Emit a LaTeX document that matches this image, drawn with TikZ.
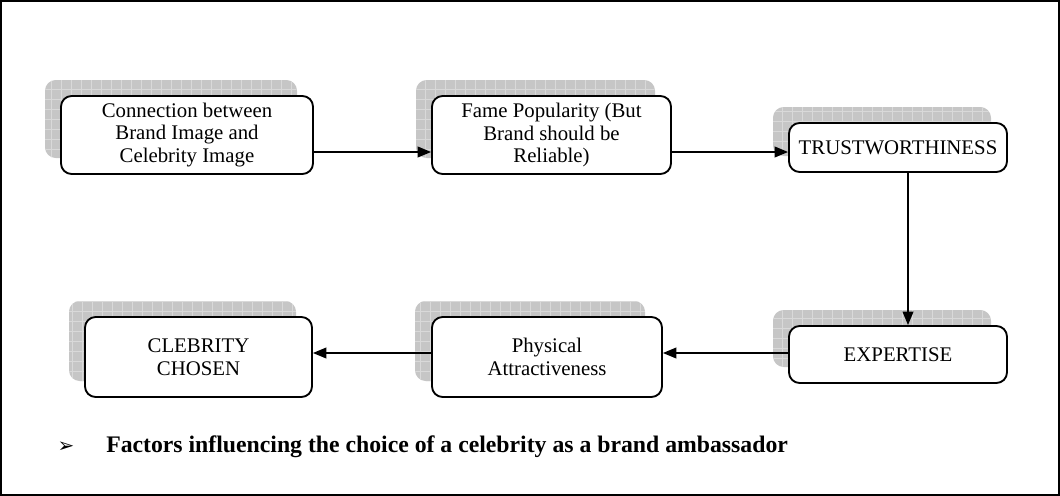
\documentclass[tikz,border=0pt]{standalone}
\usepackage{fontspec}
\setmainfont{Liberation Serif}
\newfontfamily\dejavu{DejaVu Sans}
\usetikzlibrary{arrows.meta}
\tikzset{
  x=0.75pt, y=-0.75pt,
  mainbox/.style={draw=black, line width=1.4pt, rounded corners=8pt, fill=white,
    align=center, inner sep=1pt, font=\fontsize{15.6}{17.2}\selectfont},
  shadowbox/.style={rounded corners=8pt, fill=gray!45, draw=none,
    path picture={\draw[gray!30, line width=0.5pt, step=7.5pt]
      (path picture bounding box.south west) grid (path picture bounding box.north east);}},
  arr/.style={line width=1.2pt, -{Triangle[length=10pt,width=8pt]}},
  frame/.style={draw=black, line width=0.8pt}
}
\begin{document}
\begin{tikzpicture}
\useasboundingbox (0,0) rectangle (1060,496);
\draw[frame] (1,1) rectangle (1059,495);
% shadows
\node[shadowbox, minimum width=189pt, minimum height=58.5pt] (s1) at (171,119) {};
\node[shadowbox, minimum width=179.25pt, minimum height=58.5pt] (s2) at (535.5,119) {};
\node[shadowbox, minimum width=163.5pt, minimum height=36.75pt] (s3) at (882,131.5) {};
\node[shadowbox, minimum width=163.5pt, minimum height=42.75pt] (s4) at (882,338.5) {};
\node[shadowbox, minimum width=172.5pt, minimum height=60pt] (s5) at (530,341) {};
\node[shadowbox, minimum width=170.25pt, minimum height=60pt] (s6) at (182.5,341) {};
% boxes
\node[mainbox, minimum width=189pt, minimum height=58.5pt] (b1) at (187,135) {Connection between\\Brand Image and\\Celebrity Image};
\node[mainbox, minimum width=179.25pt, minimum height=58.5pt] (b2) at (551.5,135) {Fame Popularity (But\\Brand should be\\Reliable)};
\node[mainbox, minimum width=163.5pt, minimum height=36.75pt] (b3) at (898,147.5) {TRUSTWORTHINESS};
\node[mainbox, minimum width=163.5pt, minimum height=42.75pt] (b4) at (898,354.5) {EXPERTISE};
\node[mainbox, minimum width=172.5pt, minimum height=60pt] (b5) at (547,357) {Physical\\Attractiveness};
\node[mainbox, minimum width=170.25pt, minimum height=60pt] (b6) at (198.5,357) {CLEBRITY\\CHOSEN};
% connector guides
\coordinate (row1) at (0,152);
\coordinate (row2) at (0,353);
\coordinate (col1) at (908,0);
\draw[arr] (b1.east |- row1) -- (b2.west |- row1);
\draw[arr] (b2.east |- row1) -- (b3.west |- row1);
\draw[arr] (b3.south -| col1) -- (b4.north -| col1);
\draw[arr] (b4.west |- row2) -- (b5.east |- row2);
\draw[arr] (b5.west |- row2) -- (b6.east |- row2);
% caption
\node[inner sep=0pt, font=\dejavu\fontsize{15}{17}\selectfont] (bul) at (66,447) {➢};
\node[anchor=west, inner sep=0pt, font=\bfseries\fontsize{17.8}{20}\selectfont] (cap) at (106,447) {Factors influencing the choice of a celebrity as a brand ambassador};
\end{tikzpicture}
\end{document}
